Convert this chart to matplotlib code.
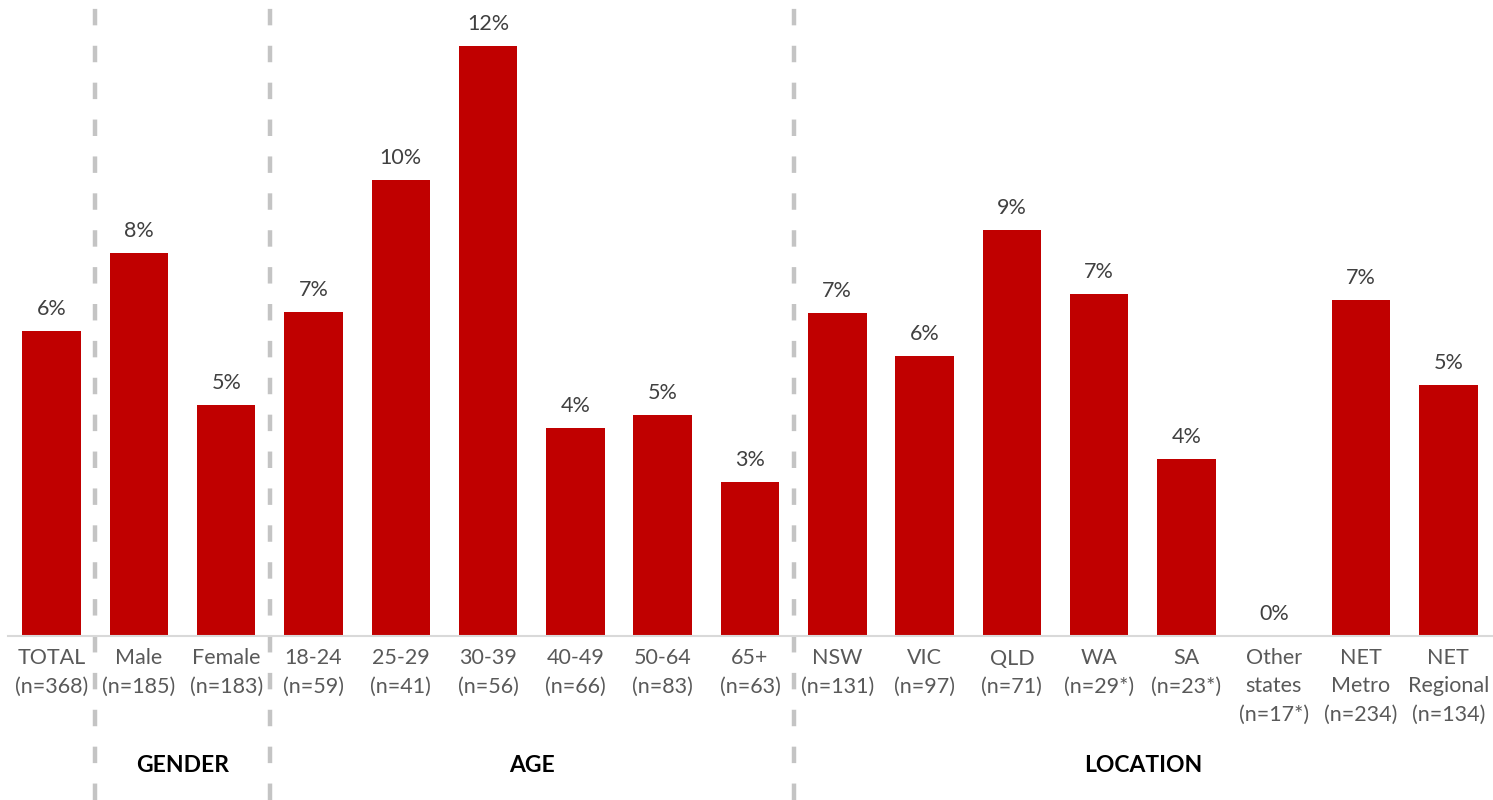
import matplotlib
matplotlib.use('Agg')
import matplotlib.pyplot as plt
import numpy as np

plt.rcParams['font.family'] = ['Lato', 'DejaVu Sans']

labels = ['TOTAL\n(n=368)', 'Male\n(n=185)', 'Female\n(n=183)',
          '18-24\n(n=59)', '25-29\n(n=41)', '30-39\n(n=56)', '40-49\n(n=66)',
          '50-64\n(n=83)', '65+\n(n=63)',
          'NSW\n(n=131)', 'VIC\n(n=97)', 'QLD\n(n=71)', 'WA\n(n=29*)',
          'SA\n(n=23*)', 'Other\nstates\n(n=17*)', 'NET\nMetro\n(n=234)',
          'NET\nRegional\n(n=134)']
values = [6.4, 8.05, 4.85,
          6.8, 9.58, 12.4, 4.37, 4.64, 3.24,
          6.79, 5.88, 8.53, 7.18, 3.72, 0.0, 7.06, 5.27]
groups = ['GENDER', 'AGE', 'LOCATION']
group_spans = [(1, 2), (3, 8), (9, 16)]
dividers = [0.5, 2.5, 8.5]

RED = '#c00000'

fig = plt.figure(figsize=(14.93, 8), dpi=100)
ax = fig.add_axes([8 / 1493, 1 - 636 / 800, 1484 / 1493, 616 / 800])

x = np.arange(len(values))
ax.bar(x, values, width=0.67, color=RED, zorder=2)
for xi, v in zip(x, values):
    ax.text(xi, v + 0.25, '%.0f%%' % v, ha='center', va='bottom',
            fontsize=15.5, color='#404040')

ax.set_xlim(-0.5, len(values) - 0.5)
ax.set_ylim(0, 616 / 47.6)
ax.set_xticks(x)
ax.set_xticklabels(labels, fontsize=15.5, color='#595959', linespacing=1.5)
ax.tick_params(axis='x', length=0, pad=9)
ax.set_yticks([])
for s in ['top', 'left', 'right']:
    ax.spines[s].set_visible(False)
ax.spines['bottom'].set_color('#d9d9d9')
ax.spines['bottom'].set_linewidth(1.5)

# dashed separators between the groups, running past the axes
trans = ax.get_xaxis_transform()
for d in dividers:
    ax.plot([d, d], [-164 / 616, 628 / 616], transform=trans, clip_on=False,
            color='#c4c4c4', lw=3.2, dashes=(3.7, 4.6), zorder=1)

for g, (a, b) in zip(groups, group_spans):
    ax.text((a + b) / 2, -129 / 616, g, transform=trans, ha='center',
            va='center', fontsize=16.5, fontweight='bold', color='black')

fig.savefig('out.png', dpi=100)
